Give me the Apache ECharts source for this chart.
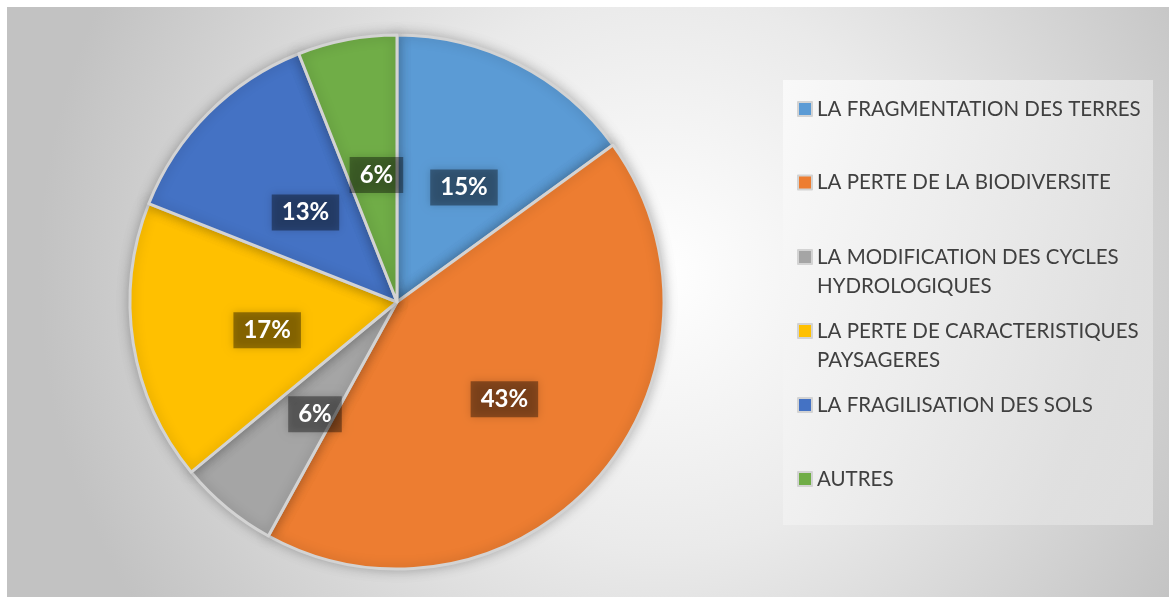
<!DOCTYPE html>
<html>
<head>
<meta charset="utf-8">
<title>Pie</title>
<script src="https://cdn.jsdelivr.net/npm/echarts@6/dist/echarts.min.js"></script>
<style>
  html, body { margin: 0; padding: 0; background: #fff; }
  #chart { position: absolute; left: 7px; top: 7px; width: 1162px; height: 590px; }
</style>
</head>
<body>
<div id="chart"></div>
<script>
const categories = [
  'LA FRAGMENTATION DES TERRES',
  'LA PERTE DE LA BIODIVERSITE',
  'LA MODIFICATION DES CYCLES\nHYDROLOGIQUES',
  'LA PERTE DE CARACTERISTIQUES\nPAYSAGERES',
  'LA FRAGILISATION DES SOLS',
  'AUTRES'
];
const shares = [15, 43, 6, 17, 13, 6];

(function () {
  const sliceColors = ['#5B9BD5', '#ED7D31', '#A5A5A5', '#FFC000', '#4472C4', '#70AD47'];
  // centre of the first text line of each legend entry, chart coords
  const legendY = [102, 175.5, 250, 324, 398, 472];
  const lineH = 29;

  const chart = echarts.init(document.getElementById('chart'));

  // two-line entries get a blank leading line so the first real line sits on the icon
  const legends = categories.map((name, i) => {
    const lines = name.split('\n').length;
    const shown = lines > 1 ? lines + 1 : 1;
    const boxH = shown * lineH;
    return {
      data: [name],
      orient: 'vertical',
      left: 790,
      top: legendY[i] - boxH / 2,
      padding: 0,
      icon: 'rect',
      itemWidth: 14,
      itemHeight: 14,
      selectedMode: false,
      formatter: (n) => (lines > 1 ? '\n' + n : n),
      textStyle: {
        color: '#404040',
        fontFamily: 'Lato',
        fontSize: 20.5,
        lineHeight: lineH
      }
    };
  });

  const option = {
    backgroundColor: {
      type: 'radial', x: 0.56, y: 0.45, r: 1.05,
      colorStops: [
        { offset: 0, color: '#ffffff' },
        { offset: 0.45, color: '#eaeaea' },
        { offset: 1, color: '#c2c2c2' }
      ]
    },
    animation: false,
    color: sliceColors,
    graphic: [{
      type: 'rect',
      left: 776, top: 73, z: -1,
      shape: { width: 370, height: 445 },
      style: {
        fill: {
          type: 'linear', x: 0, y: 0, x2: 1, y2: 0.3,
          colorStops: [
            { offset: 0, color: 'rgba(250,250,250,0.92)' },
            { offset: 1, color: 'rgba(226,226,226,0.8)' }
          ]
        }
      }
    }],
    legend: legends,
    series: [{
      type: 'pie',
      center: [390, 295],
      radius: 267,
      startAngle: 90,
      clockwise: true,
      data: categories.map((name, i) => ({ name: name, value: shares[i] })),
      itemStyle: {
        borderColor: '#d3d3d3',
        borderWidth: 3,
        shadowBlur: 12,
        shadowColor: 'rgba(0,0,0,0.25)'
      },
      emphasis: { disabled: true },
      label: {
        show: true,
        position: 'inside',
        formatter: '{d}%',
        color: '#fff',
        fontFamily: 'Lato',
        fontWeight: 'bold',
        fontSize: 24,
        lineHeight: 24,
        backgroundColor: 'rgba(0,0,0,0.38)',
        padding: [6, 10],
        shadowBlur: 8,
        shadowColor: 'rgba(0,0,0,0.45)'
      },
      labelLayout: { dx: 5, dy: 7 },
      labelLine: { show: false }
    }]
  };

  chart.setOption(option);
  window.addEventListener('resize', () => chart.resize());
})();
</script>
</body>
</html>
